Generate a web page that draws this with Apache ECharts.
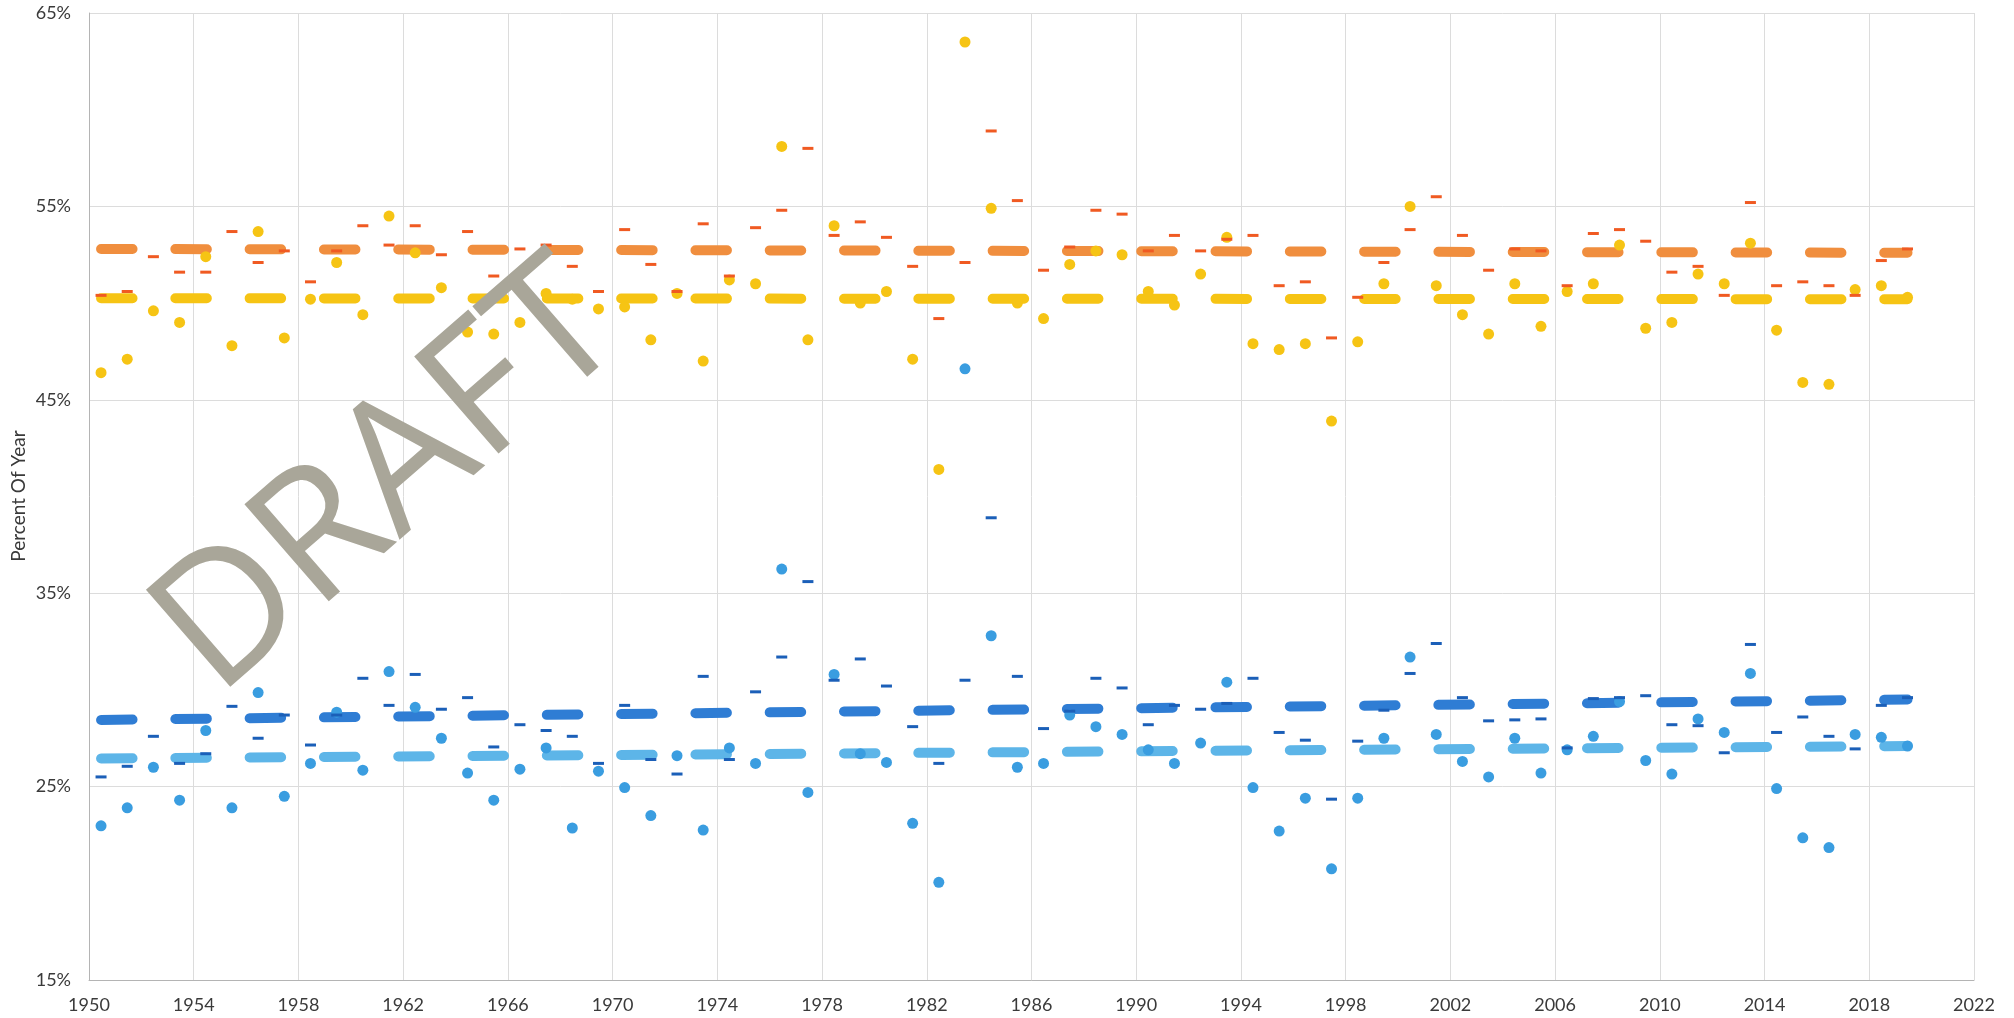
<!DOCTYPE html>
<html>
<head>
<meta charset="UTF-8"/>
<title>Percent Of Year</title>
<script src="https://cdn.jsdelivr.net/npm/echarts@6/dist/echarts.min.js"></script>
<style>
  html, body { margin: 0; padding: 0; background: #fff; }
  #chart { width: 2014px; height: 1018px; }
</style>
</head>
<body>
<div id="chart"></div>
<script>
// years 1950..2019, one value per year
var years = [];
for (var y = 1950; y <= 2019; y++) years.push(y);

// yellow dots
var yellowDots = [46.4, 47.1, 49.6, 49.0, 52.4, 47.8, 53.7, 48.2, 50.2, 52.1,
  49.4, 54.5, 52.6, 50.8, 48.5, 48.4, 49.0, 50.5, 50.2, 49.7,
  49.8, 48.1, 50.5, 47.0, 51.2, 51.0, 58.1, 48.1, 54.0, 50.0,
  50.6, 47.1, 41.4, 63.5, 54.9, 50.0, 49.2, 52.0, 52.7, 52.5,
  50.6, 49.9, 51.5, 53.4, 47.9, 47.6, 47.9, 43.9, 48.0, 51.0,
  55.0, 50.9, 49.4, 48.4, 51.0, 48.8, 50.6, 51.0, 53.0, 48.7,
  49.0, 51.5, 51.0, 53.1, 48.6, 45.9, 45.8, 50.7, 50.9, 50.3];

// orange small dashes
var orangeDashes = [50.4, 50.6, 52.4, 51.6, 51.6, 53.7, 52.1, 52.7, 51.1, 52.7,
  54.0, 53.0, 54.0, 52.5, 53.7, 51.4, 52.8, 53.0, 51.9, 50.6,
  53.8, 52.0, 50.6, 54.1, 51.4, 53.9, 54.8, 58.0, 53.5, 54.2,
  53.4, 51.9, 49.2, 52.1, 58.9, 55.3, 51.7, 52.9, 54.8, 54.6,
  52.7, 53.5, 52.7, 53.3, 53.5, 50.9, 51.1, 48.2, 50.3, 52.1,
  53.8, 55.5, 53.5, 51.7, 52.8, 52.7, 50.9, 53.6, 53.8, 53.2,
  51.6, 51.9, 50.4, 55.2, 50.9, 51.1, 50.9, 50.4, 52.2, 52.8];

// blue dots
var blueDots = [22.97, 23.9, 26.0, 24.3, 27.9, 23.9, 29.86, 24.5, 26.2, 28.85,
  25.85, 30.95, 29.1, 27.5, 25.7, 24.3, 25.9, 27.0, 22.86, 25.8,
  24.95, 23.5, 26.6, 22.75, 27.0, 26.2, 36.25, 24.7, 30.8, 26.7,
  26.25, 23.1, 20.05, 46.6, 32.8, 26.0, 26.2, 28.7, 28.1, 27.7,
  26.9, 26.2, 27.25, 30.4, 24.95, 22.7, 24.4, 20.75, 24.4, 27.5,
  31.7, 27.7, 26.3, 25.5, 27.5, 25.7, 26.9, 27.6, 29.4, 26.35,
  25.65, 28.5, 27.8, 30.85, 24.9, 22.35, 21.85, 27.7, 27.55, 27.1];

// dark blue small dashes
var darkBlueDashes = [25.5, 26.05, 27.6, 26.2, 26.7, 29.15, 27.5, 28.7, 27.15, 28.7,
  30.6, 29.2, 30.8, 29.0, 29.6, 27.05, 28.2, 27.9, 27.6, 26.2,
  29.2, 26.4, 25.65, 30.7, 26.4, 29.9, 31.7, 35.6, 30.5, 31.6,
  30.2, 28.1, 26.2, 30.5, 38.9, 30.7, 28.0, 28.9, 30.6, 30.1,
  28.2, 29.2, 29.0, 29.3, 30.6, 27.8, 27.4, 24.35, 27.35, 28.95,
  30.85, 32.4, 29.6, 28.4, 28.45, 28.5, 27.0, 29.55, 29.6, 29.7,
  28.2, 28.15, 26.75, 32.35, 27.8, 28.6, 27.6, 26.95, 29.2, 29.6];

// trend lines: value at first and last year
var orangeTrend = [52.8, 52.6];
var yellowTrend = [50.25, 50.2];
var darkBlueTrend = [28.45, 29.5];
var lightBlueTrend = [26.45, 27.1];

var yTicks = [15, 25, 35, 45, 55, 65];
var xTicks = [1950, 2022];
var yTitle = 'Percent Of Year';

var MID = 0.46; // points sit mid-year

function pairs(vals) {
  return years.map(function (yr, i) { return [yr + MID, vals[i]]; });
}
function trend(ends) {
  return [[years[0] + MID, ends[0]], [years[years.length - 1] + MID, ends[1]]];
}

var font = 'Lato';
var labelColor = '#3a3a3a';
var thickDash = [31.5, 42.8];

function trendSeries(name, ends, color) {
  return {
    name: name, type: 'line', data: trend(ends), showSymbol: false, silent: true,
    lineStyle: { color: color, width: 10, type: thickDash, cap: 'round' }, z: 2
  };
}

var chart = echarts.init(document.getElementById('chart'));
var option = {
  animation: false,
  backgroundColor: '#ffffff',
  grid: { left: 89, right: 40, top: 13, bottom: 38 },
  xAxis: {
    type: 'value', min: xTicks[0], max: xTicks[1], interval: 4,
    axisLine: { show: true, lineStyle: { color: '#b4b4b4' } },
    axisTick: { show: false },
    axisLabel: {
      color: labelColor, fontFamily: font, fontSize: 18, margin: 16,
      formatter: function (v) { return String(v); }
    },
    splitLine: { show: true, lineStyle: { color: '#dcdcdc', width: 1 } }
  },
  yAxis: {
    type: 'value', min: yTicks[0], max: yTicks[yTicks.length - 1], interval: 10,
    axisLine: { show: true, lineStyle: { color: '#b4b4b4' } },
    axisTick: { show: false },
    axisLabel: { color: labelColor, fontFamily: font, fontSize: 18, margin: 18, formatter: '{value}%' },
    splitLine: { show: true, lineStyle: { color: '#dcdcdc', width: 1 } }
  },
  series: [
    trendSeries('Orange trend', orangeTrend, '#f08e3e'),
    trendSeries('Yellow trend', yellowTrend, '#f6c414'),
    trendSeries('Dark blue trend', darkBlueTrend, '#2f7dd4'),
    trendSeries('Light blue trend', lightBlueTrend, '#5db5e8'),
    {
      name: 'Yellow', type: 'scatter', data: pairs(yellowDots),
      symbol: 'circle', symbolSize: 11, itemStyle: { color: '#f6c414', opacity: 1 }, z: 3
    },
    {
      name: 'Orange', type: 'scatter', data: pairs(orangeDashes),
      symbol: 'rect', symbolSize: [11, 3], itemStyle: { color: '#f05a22', opacity: 1 }, z: 4
    },
    {
      name: 'Blue', type: 'scatter', data: pairs(blueDots),
      symbol: 'circle', symbolSize: 11, itemStyle: { color: '#3a9de0', opacity: 1 }, z: 3
    },
    {
      name: 'Dark blue', type: 'scatter', data: pairs(darkBlueDashes),
      symbol: 'rect', symbolSize: [11, 3], itemStyle: { color: '#1b5fb8', opacity: 1 }, z: 4
    }
  ],
  graphic: [{
    type: 'text', x: 19, y: 496, rotation: Math.PI / 2, z: 50,
    style: {
      text: yTitle, fill: labelColor, font: 'normal 19px Lato',
      textAlign: 'center', textVerticalAlign: 'middle'
    }
  }, {
    type: 'text', x: 390, y: 480, rotation: 41 * Math.PI / 180, z: 100,
    style: {
      text: 'DRAFT', fill: '#a9a699', font: 'normal 180px "Open Sans"',
      textAlign: 'center', textVerticalAlign: 'middle'
    }
  }]
};
chart.setOption(option);
</script>
</body>
</html>
